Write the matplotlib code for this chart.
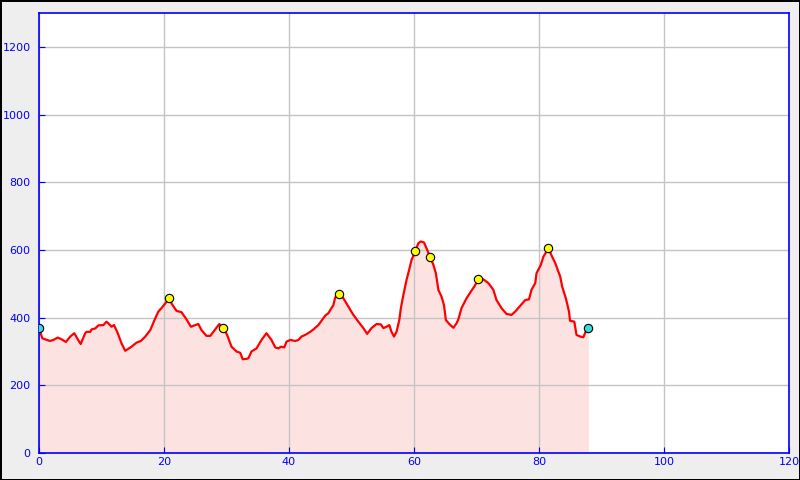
import matplotlib
matplotlib.use("Agg")
import matplotlib.pyplot as plt
import numpy as np

# elevation profile, km vs metres
dist = [0.0, 0.53, 0.96, 1.76, 2.3, 3.0, 3.6, 4.3, 5.0, 5.65, 6.2, 6.67, 7.4, 7.6,
        8.2, 8.4, 9.0, 9.5, 10.3, 10.8, 11.1, 11.6, 12.0, 12.6, 13.2, 13.8, 14.3,
        14.8, 15.6, 16.3, 17.0, 17.8, 18.6, 19.1, 19.6, 20.2, 20.4, 20.85, 21.2,
        22.0, 22.8, 23.6, 24.3, 25.0, 25.5, 26.0, 26.8, 27.4, 27.9, 28.85, 29.5,
        30.1, 30.8, 31.6, 32.2, 32.6, 33.2, 33.5, 34.0, 34.8, 35.6, 36.4, 37.2,
        37.8, 38.3, 38.7, 39.25, 39.6, 40.2, 41.0, 41.5, 42.0, 42.6, 43.4, 43.9,
        44.7, 45.3, 45.8, 46.3, 46.7, 47.1, 47.4, 48.05, 48.7, 49.2, 49.8, 50.3,
        51.1, 51.9, 52.5, 53.2, 54.0, 54.7, 55.1, 55.6, 56.05, 56.4, 56.8, 57.2,
        57.65, 57.9, 58.3, 58.8, 59.25, 59.6, 60.2, 60.7, 61.1, 61.6, 62.0, 62.6,
        63.1, 63.5, 63.9, 64.4, 64.8, 65.1, 65.65, 66.3, 66.8, 67.1, 67.6, 68.4,
        69.1, 69.65, 70.3, 71.1, 71.9, 72.7, 73.2, 74.0, 74.8, 75.6, 76.2, 77.0,
        77.8, 78.4, 78.8, 79.4, 79.6, 80.3, 80.7, 81.5, 82.1, 82.6, 83.4, 83.7,
        84.3, 84.8, 84.96, 85.65, 86.0, 86.6, 87.1, 87.4, 87.9]
elev = [369, 339, 336, 331, 334, 341, 336, 328, 344, 354, 336, 322, 354, 358,
        358, 365, 368, 377, 378, 388, 383, 373, 378, 354, 324, 302, 308,
        314, 326, 331, 344, 363, 398, 418, 428, 442, 447, 457, 442,
        420, 416, 395, 373, 378, 381, 363, 346, 346, 358, 381, 369,
        349, 314, 300, 296, 277, 278, 280, 300, 309, 334, 354, 334,
        312, 309, 314, 312, 329, 334, 331, 334, 344, 349, 358, 365,
        378, 393, 406, 413, 425, 437, 460, 470, 457, 442, 423, 408,
        388, 369, 352, 369, 381, 380, 369, 373, 378, 358, 344, 358,
        393, 428, 467, 511, 543, 570, 596, 620, 625, 622, 605, 578,
        556, 531, 482, 462, 437, 393, 381, 370, 383, 395, 428, 457,
        477, 492, 513, 513, 502, 482, 452, 428, 411, 408, 418, 435,
        452, 454, 482, 502, 531, 556, 580, 605, 580, 561, 521, 492,
        457, 418, 391, 388, 349, 344, 342, 356, 369]

# waypoints
way_x = [20.85, 29.5, 48.05, 60.2, 62.6, 70.3, 81.5]
way_y = [457, 369, 470, 596, 578, 513, 605]
end_x = [0.0, 87.9]
end_y = [369, 369]

fig = plt.figure(figsize=(8, 4.8), dpi=100, facecolor="#eeeeee",
                 edgecolor="black", linewidth=1)
ax = fig.add_axes([39 / 800, 27 / 480, 750 / 800, 440 / 480])

ax.fill_between(dist, elev, 0, color="#fde2e2", lw=0, zorder=1)
ax.plot(dist, elev, "-", color="red", lw=1.6, zorder=3)
ax.plot(way_x, way_y, "o", color="yellow", mec="black", mew=0.8, ms=6, zorder=4)
ax.plot(end_x, end_y, "o", color="#33dddd", mec="black", mew=0.8, ms=6,
        zorder=4)

ax.set_xlim(0, 120)
ax.set_ylim(0, 1300)
ax.set_xticks(np.arange(0, 121, 20))
ax.set_yticks(np.arange(0, 1201, 200))
ax.grid(True, color="#c4c4c4", lw=1, zorder=2)

for s in ax.spines.values():
    s.set_color("blue")
    s.set_linewidth(1.2)
ax.tick_params(direction="in", length=4, color="blue", labelcolor="blue",
               labelsize=8, top=False, right=False)
ax.tick_params(axis="y", pad=6)
ax.tick_params(axis="x", pad=3)

fig.savefig("out.png", dpi=100, facecolor=fig.get_facecolor(),
            edgecolor=fig.get_edgecolor())
